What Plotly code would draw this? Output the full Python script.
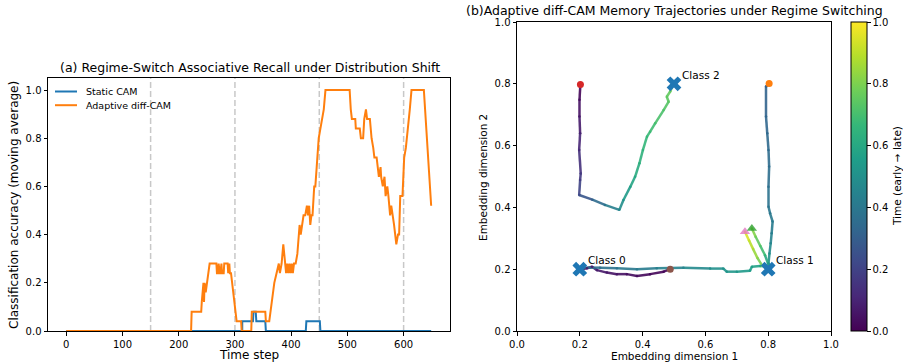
import plotly.graph_objects as go
from plotly.colors import sample_colorscale

# ---------------- data: panel (a) ----------------
static_t = [0, 313, 313, 332, 333, 337, 338, 354, 355, 426, 427, 451, 452, 649]
static_v = [0, 0, 0.04, 0.04, 0.08, 0.08, 0.04, 0.04, 0, 0, 0.04, 0.04, 0, 0]

adapt_t = [0, 222, 223, 240, 241, 243, 244, 245, 246, 248, 250, 253, 255, 267, 268, 270, 271, 273,
           274, 276, 277, 280, 281, 287, 288, 290, 291, 293, 295, 297, 299, 301, 303, 311, 312, 329,
           330, 354, 355, 361, 363, 365, 367, 370, 374, 378, 380, 383, 386, 389, 391, 393, 395, 397,
           399, 401, 403, 405, 408, 411, 415, 417, 419, 420, 422, 425, 428, 430, 432, 434, 436, 438,
           441, 443, 446, 449, 452, 455, 458, 461, 504, 506, 508, 514, 515, 522, 524, 528, 530, 533,
           535, 540, 543, 546, 548, 552, 554, 556, 559, 560, 563, 566, 568, 571, 573, 576, 578, 581,
           583, 587, 590, 592, 594, 598, 601, 604, 608, 611, 614, 636, 649]
adapt_v = [0, 0, 0.08, 0.08, 0.12, 0.20, 0.20, 0.12, 0.20, 0.16, 0.20, 0.24, 0.28, 0.28, 0.24, 0.24,
           0.28, 0.24, 0.24, 0.28, 0.24, 0.24, 0.28, 0.28, 0.24, 0.28, 0.24, 0.24, 0.20, 0.16, 0.12,
           0.08, 0.04, 0.04, 0, 0, 0.08, 0.08, 0.04, 0.04, 0.08, 0.12, 0.16, 0.20, 0.24, 0.28, 0.24,
           0.28, 0.36, 0.28, 0.24, 0.28, 0.24, 0.28, 0.24, 0.28, 0.24, 0.28, 0.28, 0.32, 0.44, 0.40,
           0.44, 0.44, 0.48, 0.48, 0.52, 0.48, 0.52, 0.44, 0.48, 0.48, 0.60, 0.60, 0.72, 0.80, 0.84,
           0.88, 0.92, 1.0, 1.0, 0.92, 0.88, 0.88, 0.84, 0.84, 0.80, 0.80, 0.88, 0.92, 0.88, 0.88,
           0.80, 0.76, 0.72, 0.72, 0.68, 0.64, 0.68, 0.64, 0.60, 0.64, 0.56, 0.60, 0.56, 0.48, 0.52,
           0.48, 0.44, 0.36, 0.40, 0.40, 0.56, 0.56, 0.72, 0.76, 0.84, 0.92, 1.0, 1.0, 0.52]

regime_switches = [150, 300, 450, 600]
legend_names = ["Static CAM", "Adaptive diff-CAM"]

# ---------------- data: panel (b) ----------------
trajA_x = [0.202, 0.199, 0.199, 0.201, 0.198, 0.203, 0.201, 0.198, 0.240, 0.280, 0.326, 0.339,
           0.361, 0.376, 0.390, 0.401, 0.414, 0.424, 0.440, 0.467, 0.483, 0.477, 0.488, 0.496]
trajA_y = [0.798, 0.748, 0.694, 0.640, 0.586, 0.510, 0.489, 0.440, 0.425, 0.408, 0.392, 0.424,
           0.467, 0.499, 0.543, 0.586, 0.629, 0.645, 0.672, 0.715, 0.742, 0.758, 0.775, 0.796]
trajA_t = [0.00, 0.03, 0.06, 0.09, 0.12, 0.16, 0.18, 0.23, 0.31, 0.39, 0.47, 0.52, 0.57, 0.60,
           0.63, 0.65, 0.67, 0.68, 0.70, 0.72, 0.74, 0.75, 0.76, 0.78]

trajB_x = [0.803, 0.793, 0.793, 0.797, 0.801, 0.803, 0.801, 0.801, 0.806, 0.814, 0.811, 0.808,
           0.804, 0.801, 0.803, 0.790, 0.775, 0.760, 0.748]
trajB_y = [0.801, 0.791, 0.694, 0.640, 0.586, 0.532, 0.467, 0.402, 0.381, 0.354, 0.316, 0.284,
           0.251, 0.219, 0.208, 0.245, 0.275, 0.305, 0.332]
trajB_t = [0.30, 0.31, 0.33, 0.34, 0.35, 0.36, 0.37, 0.39, 0.40, 0.41, 0.43, 0.46, 0.49, 0.53,
           0.55, 0.66, 0.72, 0.78, 0.84]

trajC_x = [0.488, 0.467, 0.424, 0.382, 0.350, 0.318, 0.286, 0.255, 0.239, 0.223, 0.204, 0.212,
           0.265, 0.318, 0.382, 0.445, 0.530, 0.615, 0.657, 0.668, 0.700, 0.742, 0.748, 0.774,
           0.782, 0.766, 0.752, 0.739, 0.726]
trajC_y = [0.200, 0.192, 0.184, 0.178, 0.184, 0.184, 0.189, 0.197, 0.208, 0.203, 0.200, 0.205,
           0.205, 0.203, 0.200, 0.203, 0.205, 0.202, 0.202, 0.192, 0.192, 0.195, 0.208, 0.210,
           0.210, 0.236, 0.265, 0.293, 0.321]
trajC_t = [0.00, 0.01, 0.02, 0.03, 0.04, 0.05, 0.06, 0.07, 0.08, 0.09, 0.10, 0.34, 0.37, 0.39,
           0.41, 0.43, 0.46, 0.49, 0.51, 0.52, 0.53, 0.55, 0.56, 0.58, 0.76, 0.82, 0.87, 0.92, 0.97]

class_x = [0.2, 0.8, 0.5]
class_y = [0.2, 0.2, 0.8]
class_labels = ["Class 0", "Class 1", "Class 2"]

start_x = [0.202, 0.803, 0.488]
start_y = [0.798, 0.801, 0.200]
start_colors = ["#d62728", "#ff7f0e", "#8c564b"]

end_x = [0.726, 0.748]
end_y = [0.321, 0.332]
end_colors = ["#e377c2", "#2ca02c"]

cbar_ticks = [0.0, 0.2, 0.4, 0.6, 0.8, 1.0]

# ---------------- figure ----------------
W, H = 903, 362
FONT = "DejaVu Sans"
BLUE, ORANGE = "#1f77b4", "#ff7f0e"


def fx(p):
    return p / W


def fy(p):
    return 1 - p / H


fig = go.Figure()

fig.add_trace(go.Scatter(x=static_t, y=static_v, mode="lines", name=legend_names[0],
                         line=dict(color=BLUE, width=2), xaxis="x", yaxis="y"))
fig.add_trace(go.Scatter(x=adapt_t, y=adapt_v, mode="lines", name=legend_names[1],
                         line=dict(color=ORANGE, width=2), xaxis="x", yaxis="y"))

shapes = []
for s in regime_switches:
    shapes.append(dict(type="line", xref="x", yref="y domain", x0=s, x1=s, y0=0, y1=1,
                       line=dict(color="#c8c8c8", width=1.5, dash="6px,3px"), layer="below"))

# hand-drawn legend (matplotlib-like compact spacing)
annotations = []
for i, (nm, col) in enumerate(zip(legend_names, [BLUE, ORANGE])):
    yy = 91.5 + i * 13.7
    shapes.append(dict(type="line", xref="paper", yref="paper", x0=fx(55), x1=fx(77),
                       y0=fy(yy), y1=fy(yy), line=dict(color=col, width=2)))
    annotations.append(dict(x=fx(84), y=fy(yy), xref="paper", yref="paper", text=nm,
                            showarrow=False, xanchor="left", yanchor="middle",
                            font=dict(family=FONT, size=9.5, color="black")))

all_x, all_y, all_t = [], [], []
for tx, ty, tt in [(trajA_x, trajA_y, trajA_t), (trajB_x, trajB_y, trajB_t),
                   (trajC_x, trajC_y, trajC_t)]:
    for i in range(len(tx) - 1):
        c = sample_colorscale("Viridis", (tt[i] + tt[i + 1]) / 2)[0]
        fig.add_trace(go.Scatter(x=[tx[i], tx[i + 1]], y=[ty[i], ty[i + 1]], mode="lines",
                                 line=dict(color=c, width=2.5), opacity=0.9, showlegend=False,
                                 hoverinfo="skip", xaxis="x2", yaxis="y2"))
    all_x += tx
    all_y += ty
    all_t += tt

fig.add_trace(go.Scatter(
    x=all_x, y=all_y, mode="markers", showlegend=False, hoverinfo="skip",
    xaxis="x2", yaxis="y2",
    marker=dict(size=2.5, color=all_t, colorscale="Viridis", cmin=0, cmax=1, showscale=True,
                line=dict(width=0),
                colorbar=dict(x=fx(851), xanchor="left", xpad=0, ypad=0,
                              y=(fy(22) + fy(331)) / 2, yanchor="middle",
                              len=(331 - 22) / H, lenmode="fraction",
                              thickness=16, thicknessmode="pixels",
                              outlinewidth=1, outlinecolor="black",
                              ticks="outside", ticklen=3.5, tickcolor="black",
                              tickvals=cbar_ticks, ticktext=[f"{v:.1f}" for v in cbar_ticks],
                              tickfont=dict(family=FONT, size=10, color="black"))),
))

fig.add_trace(go.Scatter(x=start_x, y=start_y, mode="markers", showlegend=False,
                         marker=dict(size=7, color=start_colors, line=dict(width=0)),
                         xaxis="x2", yaxis="y2"))
fig.add_trace(go.Scatter(x=end_x, y=end_y, mode="markers", showlegend=False, opacity=0.8,
                         marker=dict(size=9, symbol="triangle-up", color=end_colors,
                                     line=dict(width=0)),
                         xaxis="x2", yaxis="y2"))
fig.add_trace(go.Scatter(x=class_x, y=class_y, mode="markers", showlegend=False,
                         marker=dict(size=13, symbol="x", color=BLUE, line=dict(width=0)),
                         xaxis="x2", yaxis="y2"))

for cx, cy, lab in zip(class_x, class_y, class_labels):
    annotations.append(dict(x=cx + 0.02, y=cy + 0.03, xref="x2", yref="y2", text=lab,
                            showarrow=False, xanchor="left", yanchor="middle",
                            font=dict(family=FONT, size=10.5, color="black")))

annotations += [
    dict(x=fx(250), y=fy(68), xref="paper", yref="paper", showarrow=False,
         text="(a) Regime-Switch Associative Recall under Distribution Shift",
         font=dict(family=FONT, size=12.5, color="black"), xanchor="center", yanchor="middle"),
    dict(x=fx(674), y=fy(11), xref="paper", yref="paper", showarrow=False,
         text="(b)Adaptive diff-CAM Memory Trajectories under Regime Switching",
         font=dict(family=FONT, size=12.5, color="black"), xanchor="center", yanchor="middle"),
    dict(x=fx(249), y=fy(355), xref="paper", yref="paper", showarrow=False, text="Time step",
         font=dict(family=FONT, size=12, color="black"), xanchor="center", yanchor="middle"),
    dict(x=fx(14), y=fy(205), xref="paper", yref="paper", showarrow=False, textangle=-90,
         text="Classification accuracy (moving average)",
         font=dict(family=FONT, size=12, color="black"), xanchor="center", yanchor="middle"),
    dict(x=fx(674), y=fy(356), xref="paper", yref="paper", showarrow=False,
         text="Embedding dimension 1",
         font=dict(family=FONT, size=10.5, color="black"), xanchor="center", yanchor="middle"),
    dict(x=fx(483), y=fy(177), xref="paper", yref="paper", showarrow=False, textangle=-90,
         text="Embedding dimension 2",
         font=dict(family=FONT, size=10.5, color="black"), xanchor="center", yanchor="middle"),
    dict(x=fx(897), y=fy(176), xref="paper", yref="paper", showarrow=False, textangle=-90,
         text="Time (early → late)",
         font=dict(family=FONT, size=10.5, color="black"), xanchor="center", yanchor="middle"),
]

axis_common = dict(showline=True, mirror=True, linecolor="black", linewidth=1, ticks="outside",
                   ticklen=3.5, tickcolor="black", showgrid=False, zeroline=False,
                   automargin=False,
                   tickfont=dict(family=FONT, size=10, color="black"))

fig.update_layout(
    width=W, height=H, autosize=False,
    margin=dict(l=0, r=0, t=0, b=0, autoexpand=False),
    paper_bgcolor="white", plot_bgcolor="white",
    font=dict(family=FONT, color="black"),
    xaxis=dict(domain=[fx(48), fx(450)], range=[-32.5, 682.5], anchor="y",
               tickvals=[0, 100, 200, 300, 400, 500, 600], **axis_common),
    yaxis=dict(domain=[fy(331), fy(78)], range=[0, 1.05], anchor="x",
               tickvals=[0, 0.2, 0.4, 0.6, 0.8, 1.0], tickformat=".1f", **axis_common),
    xaxis2=dict(domain=[fx(517), fx(831)], range=[0, 1], anchor="y2",
                tickvals=[0, 0.2, 0.4, 0.6, 0.8, 1.0], tickformat=".1f", **axis_common),
    yaxis2=dict(domain=[fy(331), fy(22)], range=[0, 1], anchor="x2",
                tickvals=[0, 0.2, 0.4, 0.6, 0.8, 1.0], tickformat=".1f", **axis_common),
    shapes=shapes,
    annotations=annotations,
    showlegend=False,
)

# remove the browser's default 8px page margin so the figure sits at the window origin
fig.write_html("out.html", config={"displayModeBar": False},
               post_script="document.body.style.margin='0px';")
